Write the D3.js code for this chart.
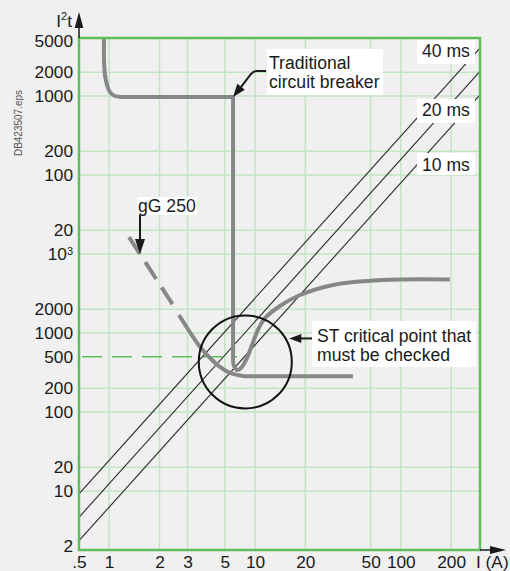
<!DOCTYPE html>
<html><head><meta charset="utf-8">
<script src="https://cdn.jsdelivr.net/npm/d3@7"></script>
<style>
html,body{margin:0;padding:0;background:#f0f0f0;}
svg{display:block;}
</style></head><body>
<svg id="chart" width="510" height="571"></svg>
<script>
// I²t (A²s) against current I (A): circuit breaker vs gG 250 fuse
const xTicks = [0.5, 1, 2, 3, 5, 10, 20, 50, 100, 200];
const xTickText = [".5", "1", "2", "3", "5", "10", "20", "50", "100", "200"];
const xGrid = [1, 2, 3, 5, 10, 20, 50, 100, 200];
const yTicks = [5e6, 2e6, 1e6, 2e5, 1e5, 2e4, 1e4, 2000, 1000, 500, 200, 100, 20, 10, 2];
const yTickText = ["5000", "2000", "1000", "200", "100", "20", "10", "2000", "1000", "500", "200", "100", "20", "10", "2"];
const yGrid = [2e6, 1e6, 2e5, 1e5, 2e4, 1e4, 2000, 1000, 200, 100, 20, 10];
const thresholdE = 500;

// traditional circuit breaker: bend, plateau + drop, dip and rise
const breakerBendI = [0.888, 0.888, 0.908, 0.951, 1.011, 1.083, 1.193];
const breakerBendE = [5.4e6, 2.86e6, 1.85e6, 1.38e6, 1.12e6, 1.0e6, 9.7e5];
const breakerFlatI = [1.193, 6.04, 6.04];
const breakerFlatE = [9.7e5, 9.7e5, 455];
const breakerDipI = [6.04, 6.17, 6.62, 7.25, 8.32, 9.34, 10.4, 11.5, 14.1, 18.6, 29.8, 47.6, 98.2, 196.5];
const breakerDipE = [455, 382, 340, 361, 483, 705, 1090, 1549, 2198, 3027, 4055, 4550, 4755, 4755];

// gG 250 fuse: dashed upper part, solid lower part
const fuseDashI = [1.314, 2.43];
const fuseDashE = [16400, 2260];
const fuseI = [2.65, 3.56, 4.08, 4.68, 5.63, 7.59, 10.7, 39.2];
const fuseE = [1690, 665, 483, 372, 312, 286, 284, 284];

// constant-duration I²t lines
const msLabels = ["40 ms", "20 ms", "10 ms"];
const msI = [0.5, 300];
const msE = [[9.2, 3.95e6], [4.65, 2.0e6], [2.35, 1.01e6]];

// short-time critical point
const critI = 8.0, critE = 430;

const FONT = "'Liberation Sans', Arial, Helvetica, sans-serif";
const C = { bg: "#f0f0f0", grid: "#c3e5c3", axis: "#5cbf5c", curve: "#878787", ink: "#1a1a1a" };
const P = { left: 79, right: 480, top: 38, bottom: 550 };

// x: logarithmic decades with a non-uniform spacing inside each decade
const decadeWarp = d3.scaleLinear().domain([1, 2, 3, 5, 10].map(Math.log10)).range([0, 0.345, 0.538, 0.793, 1]);
const warp = v => { const l = Math.log10(v); const d = Math.floor(l + 1e-9); return d + decadeWarp(l - d); };
const xw = d3.scaleLinear().domain([warp(0.5), 2.543]).range([P.left, P.right]);
const x = v => xw(warp(v));
const y = d3.scaleLog().domain([1.791, 5.42e6]).range([P.bottom, P.top]);

const svg = d3.select("#chart");
svg.append("rect").attr("width", 510).attr("height", 571).attr("fill", C.bg);

// grid
const grid = svg.append("g").attr("stroke", C.grid).attr("stroke-width", 1.5);
grid.selectAll("line.gx").data(xGrid).join("line").attr("class", "gx")
  .attr("x1", d => x(d)).attr("x2", d => x(d)).attr("y1", P.top).attr("y2", P.bottom);
grid.selectAll("line.gy").data(yGrid).join("line").attr("class", "gy")
  .attr("x1", P.left).attr("x2", P.right).attr("y1", d => y(d)).attr("y2", d => y(d));

// 500 A²s reference, up to the breaker dip
svg.append("line")
  .attr("x1", P.left).attr("x2", x(breakerDipI[2]))
  .attr("y1", y(thresholdE)).attr("y2", y(thresholdE))
  .attr("stroke", C.axis).attr("stroke-width", 1.5)
  .attr("stroke-dasharray", "20,10").attr("stroke-dashoffset", 27);

// constant-time lines
const pts = (I, E) => I.map((v, i) => [v, E[i]]);
const lineL = d3.line().x(d => x(d[0])).y(d => y(d[1]));
const lineC = d3.line().x(d => x(d[0])).y(d => y(d[1])).curve(d3.curveCatmullRom.alpha(0.5));

svg.append("clipPath").attr("id", "plotclip").append("rect")
  .attr("x", P.left).attr("y", P.top).attr("width", P.right - P.left).attr("height", P.bottom - P.top);
svg.append("g").attr("clip-path", "url(#plotclip)")
  .selectAll("path").data(msE).join("path")
  .attr("d", e => lineL(pts(msI, e)))
  .attr("fill", "none").attr("stroke", "#2a2a2a").attr("stroke-width", 1.1);

// curves
const curves = svg.append("g").attr("fill", "none").attr("stroke", C.curve)
  .attr("stroke-width", 4).attr("stroke-linejoin", "round");
curves.append("path").attr("d",
  lineC(pts(breakerBendI, breakerBendE)) +
  lineL(pts(breakerFlatI, breakerFlatE)).replace(/^M/, "L") +
  lineC(pts(breakerDipI, breakerDipE)).replace(/^M/, "L"));
curves.append("path").attr("d", lineL(pts(fuseDashI, fuseDashE))).attr("stroke-dasharray", "20,10");
curves.append("path").attr("d", lineC(pts(fuseI, fuseE)));

// critical-point circle
const cx = x(critI), cy = y(critE);
svg.append("circle").attr("cx", cx).attr("cy", cy).attr("r", 46.5)
  .attr("fill", "none").attr("stroke", "#111").attr("stroke-width", 2);

// plot frame
svg.append("rect").attr("x", P.left).attr("y", P.top)
  .attr("width", P.right - P.left).attr("height", P.bottom - P.top)
  .attr("fill", "none").attr("stroke", C.axis).attr("stroke-width", 2.5);

// axis arrows
svg.append("line").attr("x1", P.left).attr("x2", P.left).attr("y1", P.top).attr("y2", 25)
  .attr("stroke", C.ink).attr("stroke-width", 1.5);
svg.append("path").attr("d", `M${P.left},12 L${P.left - 4.3},28 L${P.left + 4.3},28 Z`).attr("fill", C.ink);
svg.append("line").attr("x1", P.right).attr("x2", 493).attr("y1", P.bottom).attr("y2", P.bottom)
  .attr("stroke", C.ink).attr("stroke-width", 1.5);
svg.append("path").attr("d", `M506,${P.bottom} L490,${P.bottom - 4} L490,${P.bottom + 4} Z`).attr("fill", C.ink);

// tick labels
const styleTicks = g => {
  g.select(".domain").remove();
  g.selectAll("text").attr("font-family", FONT).attr("font-size", 17.3).attr("fill", C.ink);
};
svg.append("g").attr("transform", `translate(${P.left},0)`)
  .call(d3.axisLeft(y).tickValues(yTicks).tickFormat((d, i) => yTickText[i]).tickSize(0).tickPadding(6))
  .call(styleTicks)
  .selectAll("text").filter(d => d === 1e4)
  .append("tspan").attr("dy", "-0.5em").attr("font-size", 11).text("3");
svg.append("g").attr("transform", `translate(0,${P.bottom})`)
  .call(d3.axisBottom(xw).tickValues(xTicks.map(warp)).tickFormat((d, i) => xTickText[i]).tickSize(0).tickPadding(6))
  .call(styleTicks);

// axis titles
const t = svg.append("text").attr("x", 72).attr("y", 27).attr("text-anchor", "end")
  .attr("font-family", FONT).attr("font-size", 17.3).attr("fill", C.ink);
t.append("tspan").text("I");
t.append("tspan").attr("dy", -7).attr("font-size", 11).text("2");
t.append("tspan").attr("dy", 7).text("t");
svg.append("text").attr("x", 476).attr("y", 568).attr("font-family", FONT).attr("font-size", 17.3)
  .attr("fill", C.ink).text("I (A)");
svg.append("text").attr("transform", "translate(21.5,123) rotate(-90)").attr("text-anchor", "middle")
  .attr("font-family", FONT).attr("font-size", 10).attr("fill", "#555").text("DB423507.eps");

// annotations
function label(x0, y0, w, h, lines, tx, ty, lh) {
  svg.append("rect").attr("x", x0).attr("y", y0).attr("width", w).attr("height", h).attr("fill", "#fff");
  lines.forEach((s, i) => svg.append("text").attr("font-family", FONT).attr("font-size", 17.6)
    .attr("fill", C.ink).attr("x", tx).attr("y", ty + i * lh).text(s));
}
function arrowHead(from, tip, len, hw) {
  const dx = tip[0] - from[0], dy = tip[1] - from[1], n = Math.hypot(dx, dy);
  const ux = dx / n, uy = dy / n, bx = tip[0] - ux * len, by = tip[1] - uy * len;
  svg.append("path").attr("fill", C.ink)
    .attr("d", `M${tip[0]},${tip[1]} L${bx - uy * hw},${by + ux * hw} L${bx + uy * hw},${by - ux * hw} Z`);
}

// 40/20/10 ms
const msBox = [[40, 57], [99, 116], [153, 171]];
msLabels.forEach((s, i) => label(417, msBox[i][0], 58, i === 2 ? 22 : 24, [s], 422, msBox[i][1], 0));

// Traditional circuit breaker
const bTip = [x(breakerFlatI[1]), y(breakerFlatE[1])];
label(267, 49, 116, 46, ["Traditional", "circuit breaker"], 269, 69, 18.5);
const bMid = [251, 74];
svg.append("path").attr("d", `M266,71 H257 Q254,71 ${bMid[0]},${bMid[1]} L${bTip[0] + 6},${bTip[1] - 7.5}`)
  .attr("fill", "none").attr("stroke", C.ink).attr("stroke-width", 2);
arrowHead(bMid, bTip, 13, 4.8);

// gG 250
const d0 = [x(fuseDashI[0]), y(fuseDashE[0])], d1 = [x(fuseDashI[1]), y(fuseDashE[1])];
const gTip = d3.interpolate(d0, d1)(0.25);
label(137, 197, 60, 18, ["gG 250"], 138, 212, 0);
svg.append("line").attr("x1", gTip[0]).attr("x2", gTip[0]).attr("y1", 215).attr("y2", gTip[1] - 10)
  .attr("stroke", C.ink).attr("stroke-width", 2);
arrowHead([gTip[0], 215], gTip, 15, 5);

// ST critical point
const sTip = [cx + 44, cy - 23.5];
label(312, 321, 164, 46, ["ST critical point that", "must be checked"], 317, 342, 18.6);
svg.append("line").attr("x1", 312).attr("x2", sTip[0] + 8).attr("y1", sTip[1]).attr("y2", sTip[1])
  .attr("stroke", C.ink).attr("stroke-width", 2);
arrowHead([312, sTip[1]], sTip, 12, 4.5);
</script>
</body></html>
